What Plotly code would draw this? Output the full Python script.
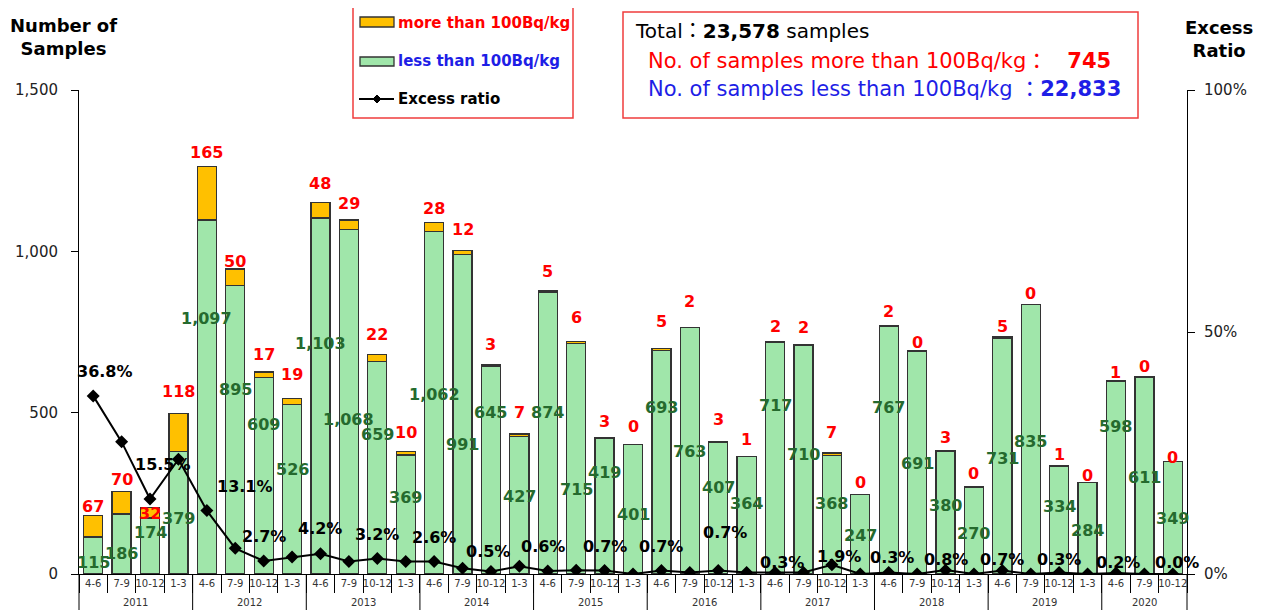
import plotly.graph_objects as go

# ---------------- data ----------------
year_labels = ["2011", "2012", "2013", "2014", "2015", "2016", "2017", "2018", "2019", "2020"]
year_sizes = [4, 4, 4, 4, 4, 4, 4, 4, 4, 3]
quarters = ["4-6", "7-9", "10-12", "1-3"] * 9 + ["4-6", "7-9", "10-12"]

less_than = [115, 186, 174, 379, 1097, 895, 609, 526, 1103, 1068, 659, 369,
             1062, 991, 645, 427, 874, 715, 419, 401, 693, 763, 407, 364,
             717, 710, 368, 247, 767, 691, 380, 270, 731, 835, 334, 284,
             598, 611, 349]
more_than = [67, 70, 32, 118, 165, 50, 17, 19, 48, 29, 22, 10,
             28, 12, 3, 7, 5, 6, 3, 0, 5, 2, 3, 1,
             2, 2, 7, 0, 2, 0, 3, 0, 5, 0, 1, 0,
             1, 0, 0]
excess_ratio = [36.8, 27.3, 15.5, 23.7, 13.1, 5.3, 2.7, 3.5, 4.2, 2.6, 3.2, 2.6,
                2.6, 1.2, 0.5, 1.6, 0.6, 0.8, 0.7, 0.0, 0.7, 0.3, 0.7, 0.3,
                0.3, 0.3, 1.9, 0.0, 0.3, 0.0, 0.8, 0.0, 0.7, 0.0, 0.3, 0.0,
                0.2, 0.0, 0.0]

# label placement (layout, in axis units)
red_label_y = [208, 292, 189, 565, 1307, 969, 680, 618, 1211, 1149, 742, 438,
               1134, 1068, 711, 500, 938, 795, 472, 457, 783, 845, 478, 416,
               767, 764, 438, 283, 814, 717, 422, 311, 767, 870, 370, 304,
               624, 643, 360]
green_label_y = [37, 65, 130, 171, 792, 571, 463, 323, 714, 478, 432, 236,
                 556, 401, 500, 239, 500, 261, 314, 183, 516, 379, 267, 217,
                 522, 370, 217, 118, 516, 342, 211, 127, 357, 410, 208, 134,
                 457, 298, 171]
pct_label_idx = [0, 2, 4, 6, 8, 10, 12, 14, 16, 18, 20, 22, 24, 26, 28, 30, 32, 34, 36, 38]
pct_label_y = [41.8, 22.6, 18.0, 7.7, 9.5, 8.1, 7.5, 4.6, 5.6, 5.6, 5.6, 8.5,
               2.3, 3.7, 3.5, 3.1, 3.1, 3.1, 2.3, 2.3]
pct_label_dx = [12, 13, 38, 0, 0, 0, 0, -3, -5, 0, 0, 7, 7, 7, 3, 0, 0, 0, 2, 4]

FONT = "DejaVu Sans, Noto Sans CJK JP, sans-serif"
GREEN = "#A0E6AA"
ORANGE = "#FFC000"
N = len(quarters)
idx = list(range(N))

# page offset of the figure (body margin) and plot area in page pixels
OFF = 8
L, R, T, B = 79, 1187, 90, 574
W, H = 1261 - OFF, 610 - OFF
def px(x):
    return (x - L) / (R - L)
def py(y):
    return (B - y) / (B - T)

fig = go.Figure()
fig.add_trace(go.Bar(x=idx, y=less_than, marker=dict(color=GREEN, line=dict(color="#333333", width=1.3)),
                     width=0.67, showlegend=False, hoverinfo="y"))
fig.add_trace(go.Bar(x=idx, y=more_than, marker=dict(color=ORANGE, line=dict(color="#333333", width=1.3)),
                     width=0.67, showlegend=False, hoverinfo="y"))
fig.add_trace(go.Scatter(x=idx, y=[r / 100 for r in excess_ratio], yaxis="y2", mode="lines+markers",
                         line=dict(color="black", width=2),
                         marker=dict(symbol="diamond", size=10, color="black"),
                         showlegend=False))

ann = []
for i in idx:
    ann.append(dict(x=i, y=red_label_y[i], xref="x", yref="y", text="<b>%d</b>" % more_than[i],
                    showarrow=False, font=dict(family=FONT, size=16, color="#FF0000")))
    ann.append(dict(x=i, y=green_label_y[i], xref="x", yref="y", text="<b>{:,}</b>".format(less_than[i]),
                    showarrow=False, font=dict(family=FONT, size=16, color="#256A2E")))
for k, i in enumerate(pct_label_idx):
    ann.append(dict(x=i, y=pct_label_y[k] / 100, xref="x", yref="y2", xshift=pct_label_dx[k],
                    text="<b>%.1f%%</b>" % excess_ratio[i], showarrow=False,
                    font=dict(family=FONT, size=16, color="black")))

def note(x, y, text, size, color, xanchor="left", align="left"):
    return dict(x=px(x), y=py(y), xref="paper", yref="paper", xanchor=xanchor, yanchor="middle",
                align=align, text=text, showarrow=False, font=dict(family=FONT, size=size, color=color))

# year labels and dividers
shapes = []
start = 0
bounds = [0]
for yl, n in zip(year_labels, year_sizes):
    ann.append(dict(x=start + (n - 1) / 2, y=py(602), xref="x", yref="paper", text=yl, showarrow=False,
                    xanchor="center", yanchor="middle",
                    font=dict(family=FONT, size=10, color="#333333")))
    start += n
    bounds.append(start)
for b in bounds:
    shapes.append(dict(type="line", xref="paper", yref="paper", x0=b / N, x1=b / N, y0=0, y1=py(612),
                       line=dict(color="black", width=1)))

# axis titles
ann.append(note(63, 37, "<b>Number of<br>Samples</b>", 18, "black", xanchor="center", align="center"))
ann.append(note(1219, 39, "<b>Excess<br>Ratio</b>", 18, "black", xanchor="center", align="center"))

# legend box
shapes.append(dict(type="rect", xref="paper", yref="paper", x0=px(353), x1=px(573), y0=py(118), y1=py(3),
                   line=dict(color="#F03C3C", width=1.5), fillcolor="white", layer="below"))
shapes.append(dict(type="rect", xref="paper", yref="paper", x0=px(360), x1=px(394), y0=py(27), y1=py(17),
                   line=dict(color="#333333", width=1.3), fillcolor=ORANGE))
shapes.append(dict(type="rect", xref="paper", yref="paper", x0=px(360), x1=px(394), y0=py(66), y1=py(57),
                   line=dict(color="#333333", width=1.3), fillcolor=GREEN))
shapes.append(dict(type="line", xref="paper", yref="paper", x0=px(359), x1=px(394), y0=py(99), y1=py(99),
                   line=dict(color="black", width=2)))
cx, cy, d = 377, 99, 4
shapes.append(dict(type="path", xref="paper", yref="paper",
                   path="M%f,%f L%f,%f L%f,%f L%f,%f Z" % (px(cx - d), py(cy), px(cx), py(cy - d),
                                                         px(cx + d), py(cy), px(cx), py(cy + d)),
                   fillcolor="black", line=dict(color="black", width=1)))
ann.append(note(396, 23, "<b>more than 100Bq/kg</b>", 15, "#FF0000"))
ann.append(note(396, 61, "<b>less than 100Bq/kg</b>", 15, "#1E1EE6"))
ann.append(note(396, 99, "<b>Excess ratio</b>", 15, "black"))

# summary box
shapes.append(dict(type="rect", xref="paper", yref="paper", x0=px(623), x1=px(1138), y0=py(118), y1=py(12),
                   line=dict(color="#F03C3C", width=1.5), fillcolor="white", layer="below"))
ann.append(note(633, 31, "Total：<b>23,578</b> samples", 20, "black"))
ann.append(note(646, 61, "No. of samples more than 100Bq/kg：   <b>745</b>", 21, "#FF0000"))
ann.append(note(646, 89, "No. of samples less than 100Bq/kg ：<b>22,833</b>", 21, "#1E1EE6"))

fig.update_layout(
    width=W, height=H,
    margin=dict(l=L - OFF, r=1261 - R, t=T - OFF, b=610 - B, autoexpand=False),
    paper_bgcolor="white", plot_bgcolor="white",
    barmode="stack", bargap=0.33,
    font=dict(family=FONT, color="#222222"),
    xaxis=dict(range=[-0.5, N - 0.5], tickmode="array", tickvals=idx, ticktext=quarters,
               ticks="", showline=True, linecolor="black", linewidth=1, showgrid=False, zeroline=False,
               automargin=False,
               tickfont=dict(family=FONT, size=10, color="#333333"),
               minor=dict(tickmode="array", tickvals=[i - 0.5 for i in range(N + 1)], ticks="outside",
                          ticklen=18, tickcolor="black", tickwidth=1, showgrid=False)),
    yaxis=dict(range=[0, 1500], tickmode="array", tickvals=[0, 500, 1000, 1500], tickformat=",d",
               ticks="outside", ticklen=7, tickcolor="black", showline=True, linecolor="black",
               showgrid=False, zeroline=False, ticklabelstandoff=10, automargin=False,
               tickfont=dict(family=FONT, size=15, color="#222222")),
    yaxis2=dict(range=[0, 1], overlaying="y", side="right", tickmode="array", tickvals=[0, 0.5, 1],
                tickformat=".0%", ticks="outside", ticklen=7, tickcolor="black", showline=True,
                linecolor="black", showgrid=False, zeroline=False, ticklabelstandoff=6, automargin=False,
                tickfont=dict(family=FONT, size=15, color="#222222")),
    annotations=ann,
    shapes=shapes,
)

fig.write_html("out.html")
